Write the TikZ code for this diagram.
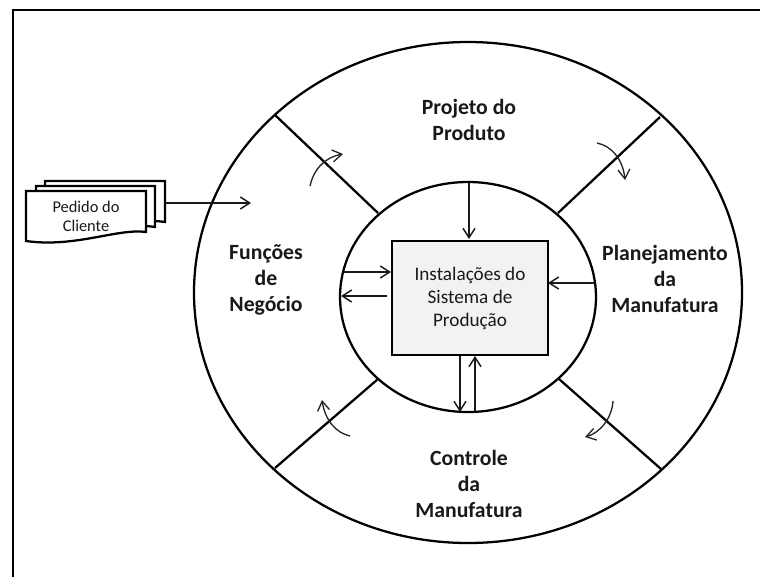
\documentclass[tikz,border=0pt]{standalone}
\usepackage{fontspec}
\setmainfont{Carlito}
\usetikzlibrary{arrows.meta}
\tikzset{
  x=0.75pt,y=-0.75pt,
  heavy/.style={draw=black,line width=1.7pt},
  conn/.style={draw=black!90,line width=1.1pt,-{Straight Barb[length=7pt,width=9pt,line width=1.1pt]}},
  turn/.style={draw=black!85,line width=1pt,-{Straight Barb[length=7pt,width=9pt,line width=1pt]}},
  sector/.style={font=\fontsize{16.3}{19.5}\selectfont\bfseries,align=center,text=black!90,inner sep=0pt},
  sheet/.style={draw=black,line width=1.7pt,fill=white},
}
\begin{document}
\begin{tikzpicture}
\useasboundingbox (0,0) rectangle (760,576);
\fill[white] (0,0) rectangle (760,576);
\draw[line width=1.2pt] (13,580) -- (13,10) -- (764,10);
% rings
\draw[heavy] (468,292.5) ellipse [x radius=274,y radius=250.5];
\draw[heavy] (468,297) ellipse [x radius=128,y radius=115];
% dividers
\coordinate (tlo) at (275,115); \coordinate (tli) at (378,213);
\coordinate (tro) at (660,117); \coordinate (tri) at (558,213);
\coordinate (blo) at (275,468); \coordinate (bli) at (378,379);
\coordinate (bro) at (661,469); \coordinate (bri) at (559,379);
\draw[heavy] (tlo) -- (tli);
\draw[heavy] (tro) -- (tri);
\draw[heavy] (blo) -- (bli);
\draw[heavy] (bro) -- (bri);
% centre box
\node[draw=black,line width=1.7pt,fill=black!5,minimum width=117pt,minimum height=85.5pt,inner sep=0pt,
  align=center,font=\fontsize{14.4}{17.25}\selectfont,text=black!90] (box) at (470,298)
  {Instalações do\\Sistema de\\Produção};
% sector labels
\node[sector] (proj) at (469,120) {Projeto do\\Produto};
\node[sector] (plan) at (665,279) {Planejamento\\da\\Manufatura};
\node[sector] (ctrl) at (469,484) {Controle\\da\\Manufatura};
\node[sector] (func) at (266,280) {Funções\\de\\Negócio};
% order document
\draw[sheet] (45,181) -- (165,181) -- (165,222) .. controls (140,218) and (120,228) .. (45,222) -- cycle;
\draw[sheet] (36,186) -- (155,186) -- (155,227) .. controls (130,223) and (110,233) .. (36,227) -- cycle;
\draw[sheet] (26,191) -- (146,191) -- (146,232) .. controls (118,228) and (75,248) .. (26,241) -- cycle;
\node[align=center,font=\fontsize{12.3}{14.5}\selectfont,text=black!90,inner sep=0pt] (ped) at (86,216.5) {Pedido do\\Cliente};
% arrows
\coordinate (docR) at (166,203); \coordinate (funcIn) at (251,203);
\draw[conn] (docR) -- (funcIn);
\coordinate (a1) at (469,183); \coordinate (a2) at (469,239);
\draw[conn] (a1) -- (a2);
\coordinate (b1) at (344,272); \coordinate (b2) at (391,272);
\draw[conn] (b1) -- (b2);
\coordinate (c1) at (387,296); \coordinate (c2) at (341,296);
\draw[conn] (c1) -- (c2);
\coordinate (d1) at (595,283); \coordinate (d2) at (548,283);
\draw[conn] (d1) -- (d2);
\coordinate (e1) at (460,356); \coordinate (e2) at (460,412);
\draw[conn] (e1) -- (e2);
\coordinate (f1) at (475,411); \coordinate (f2) at (475,356);
\draw[conn] (f1) -- (f2);
% rotation arrows
\coordinate (t1s) at (310,186); \coordinate (t1e) at (343,154);
\draw[turn] (t1s) .. controls (314,168) and (326,157) .. (t1e);
\coordinate (t2s) at (597,143); \coordinate (t2e) at (625,180);
\draw[turn] (t2s) .. controls (612,146) and (623,160) .. (t2e);
\coordinate (t3s) at (350,436); \coordinate (t3e) at (322,400);
\draw[turn] (t3s) .. controls (336,433) and (325,420) .. (t3e);
\coordinate (t4s) at (613,401); \coordinate (t4e) at (585,437);
\draw[turn] (t4s) .. controls (612,418) and (600,433) .. (t4e);
\end{tikzpicture}
\end{document}
